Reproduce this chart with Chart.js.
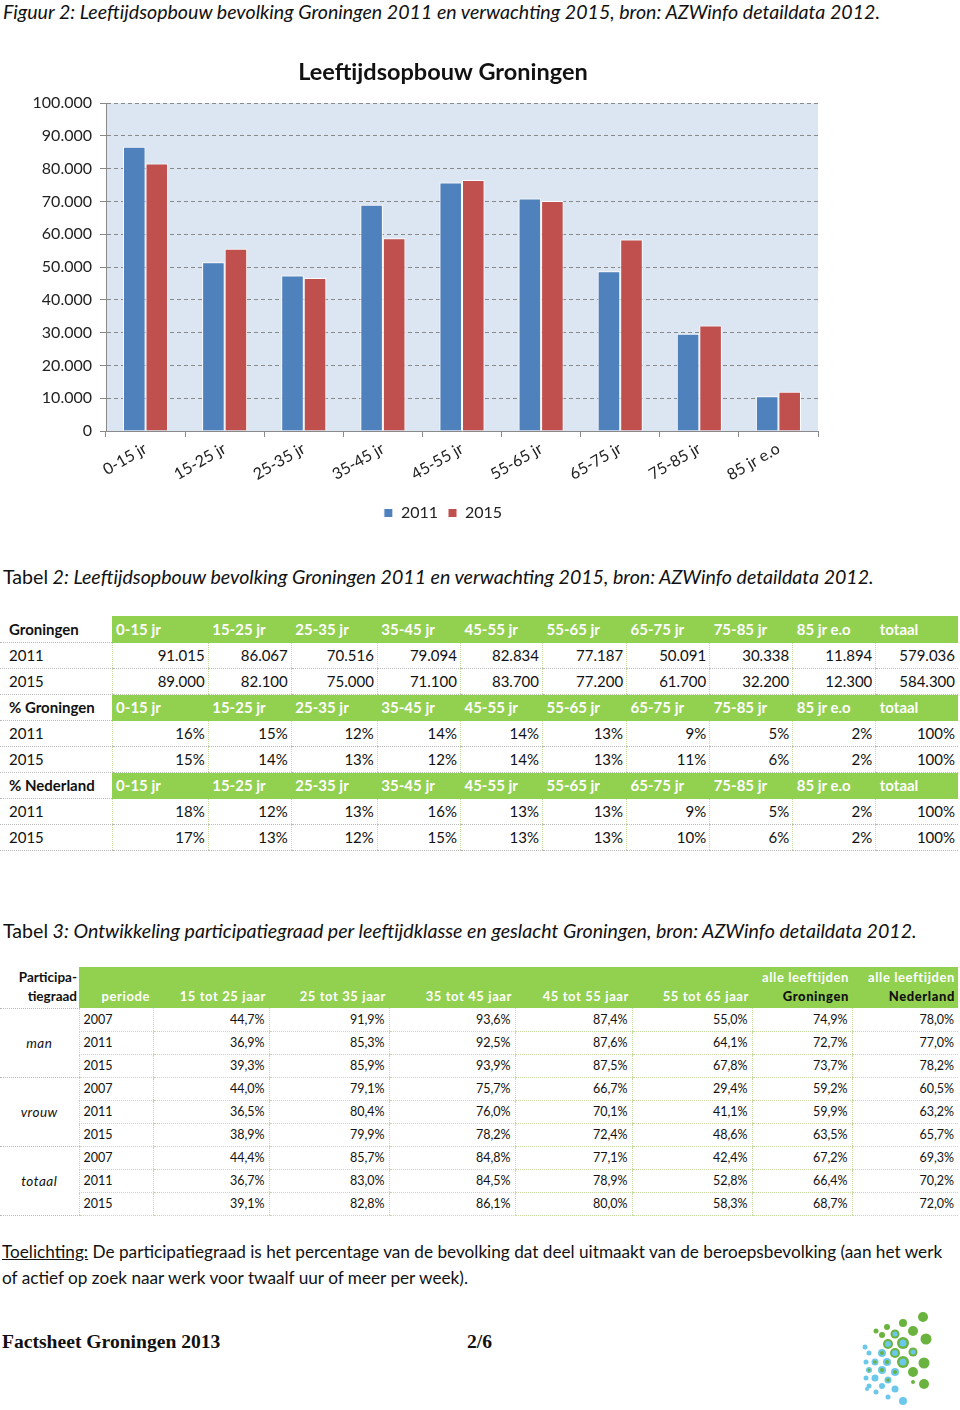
<!DOCTYPE html>
<html lang="nl">
<head>
<meta charset="utf-8">
<title>Leeftijdsopbouw Groningen</title>
<script src="https://cdn.jsdelivr.net/npm/chart.js@4.4.1/dist/chart.umd.min.js"></script>
<style>
  html, body { margin: 0; padding: 0; background: #fff; }
  body { position: relative; width: 960px; height: 1410px; overflow: hidden;
         font-family: Lato, 'Open Sans', sans-serif; color: #111; }
  .caption { position: absolute; left: 3px; height: 24px; line-height: 24px;
             font-size: 19.6px; font-style: italic; white-space: nowrap; }
  .caption .plain { font-style: normal; }
  #chartBox { position: absolute; left: 26px; top: 48px; width: 834px; height: 483px; }

  table { position: absolute; border-collapse: collapse; table-layout: fixed; }
  td { padding: 0; white-space: nowrap; overflow: hidden; }

  /* Tabel 2 */
  #t2 { left: 0; top: 616px; width: 958px; font-size: 15px; }
  #t2 tr { height: 26px; }
  #t2 td { border-bottom: 1px dotted #b9b9b9; }
  #t2 td.lab { padding-left: 9px; }
  #t2 td.lab.bold { font-weight: bold; padding-left: 9px; }
  #t2 td.head { background: #92d050; color: #fff; font-weight: bold; padding-left: 4px;
                border-bottom: 1px solid #92d050; }
  #t2 td.num { text-align: right; padding-right: 3px; border-left: 1px dotted #c6d9a0; }

  /* Tabel 3 */
  #t3 { left: 0; top: 967px; width: 958px; font-size: 12.5px; }
  #t3 tr { height: 23px; }
  #t3 tr.hdr { height: 41px; }
  #t3 td.corner { font-weight: bold; font-size: 13.5px; text-align: right; vertical-align: bottom;
                  line-height: 19px; padding: 0 2px 2px 0; border-bottom: 1px dotted #b9b9b9; }
  #t3 td.head { background: #92d050; color: #fff; font-weight: bold; font-size: 13px;
                letter-spacing: 0.6px; text-align: right; vertical-align: bottom;
                line-height: 19px; padding: 0 3px 2px 0; }
  #t3 td.head b { color: #111; }
  #t3 td.grp { font-style: italic; font-size: 13.5px; letter-spacing: 0.5px; text-align: center;
               border-bottom: 1px dotted #b9b9b9; }
  #t3 td.per { padding-left: 4px; border-bottom: 1px dotted #c6d9a0; border-left: 1px dotted #c6d9a0; }
  #t3 td.num { text-align: right; padding-right: 4px; border-bottom: 1px dotted #c6d9a0;
               border-left: 1px dotted #c6d9a0; }

  #note { position: absolute; left: 2px; top: 1239px; width: 955px; font-size: 17.2px;
          line-height: 26px; white-space: nowrap; }
  #note u { text-decoration: underline; }
  .footer { position: absolute; top: 1329px; font-family: 'Liberation Serif', 'DejaVu Serif', serif;
            font-weight: bold; font-size: 19.6px; line-height: 26px; white-space: nowrap; }
  #logo { position: absolute; left: 855px; top: 1305px; }
</style>
</head>
<body>

<div class="caption" style="top:0px">Figuur 2: Leeftijdsopbouw bevolking Groningen 2011 en verwachting 2015, bron: AZWinfo detaildata 2012.</div>

<div id="chartBox"><canvas id="leeftijdChart"></canvas></div>

<div class="caption" style="top:565px"><span class="plain">Tabel</span> 2: Leeftijdsopbouw bevolking Groningen 2011 en verwachting 2015, bron: AZWinfo detaildata 2012.</div>
<table id="t2"></table>

<div class="caption" style="top:919px"><span class="plain">Tabel</span> 3: Ontwikkeling participatiegraad per leeftijdklasse en geslacht Groningen, bron: AZWinfo detaildata 2012.</div>
<table id="t3"></table>

<div id="note"><u>Toelichting:</u> De participatiegraad is het percentage van de bevolking dat deel uitmaakt van de beroepsbevolking (aan het werk<br>of actief op zoek naar werk voor twaalf uur of meer per week).</div>

<div class="footer" style="left:2px">Factsheet Groningen 2013</div>
<div class="footer" style="left:467px">2/6</div>

<svg id="logo" width="80" height="105" viewBox="855 1305 80 105"></svg>

<script>
// Gegevens grafiek
const categories = ['0-15 jr', '15-25 jr', '25-35 jr', '35-45 jr', '45-55 jr', '55-65 jr', '65-75 jr', '75-85 jr', '85 jr e.o'];
const values2011 = [86700, 51500, 47400, 69000, 75800, 70900, 48700, 29700, 10600];
const values2015 = [81600, 55600, 46700, 58800, 76600, 70200, 58400, 32200, 12000];
const yMax = 100000;
const yStep = 10000;

// Gegevens tabel 2
const t2Years = ['2011', '2015'];
const t2Aantal = [
    ['91.015', '86.067', '70.516', '79.094', '82.834', '77.187', '50.091', '30.338', '11.894', '579.036'],
    ['89.000', '82.100', '75.000', '71.100', '83.700', '77.200', '61.700', '32.200', '12.300', '584.300']
];
const t2PctGroningen = [
    [16, 15, 12, 14, 14, 13, 9, 5, 2, 100],
    [15, 14, 13, 12, 14, 13, 11, 6, 2, 100]
];
const t2PctNederland = [
    [18, 12, 13, 16, 13, 13, 9, 5, 2, 100],
    [17, 13, 12, 15, 13, 13, 10, 6, 2, 100]
];

// Gegevens tabel 3
const t3Columns = ['periode', '15 tot 25 jaar', '25 tot 35 jaar', '35 tot 45 jaar', '45 tot 55 jaar', '55 tot 65 jaar'];
const t3Groups = ['man', 'vrouw', 'totaal'];
const t3Periods = ['2007', '2011', '2015'];
const t3Values = [
    ['44,7', '91,9', '93,6', '87,4', '55,0', '74,9', '78,0'],
    ['36,9', '85,3', '92,5', '87,6', '64,1', '72,7', '77,0'],
    ['39,3', '85,9', '93,9', '87,5', '67,8', '73,7', '78,2'],
    ['44,0', '79,1', '75,7', '66,7', '29,4', '59,2', '60,5'],
    ['36,5', '80,4', '76,0', '70,1', '41,1', '59,9', '63,2'],
    ['38,9', '79,9', '78,2', '72,4', '48,6', '63,5', '65,7'],
    ['44,4', '85,7', '84,8', '77,1', '42,4', '67,2', '69,3'],
    ['36,7', '83,0', '84,5', '78,9', '52,8', '66,4', '70,2'],
    ['39,1', '82,8', '86,1', '80,0', '58,3', '68,7', '72,0']
];

// Duizendtallen met een punt
function formatNumber(v) {
    return String(v).replace(/\B(?=(\d{3})+(?!\d))/g, '.');
}

// Achtergrond van het plotgebied
const plotBackground = {
    id: 'plotBackground',
    beforeDraw(chart) {
        const a = chart.chartArea;
        const ctx = chart.ctx;
        ctx.save();
        ctx.fillStyle = '#dce6f2';
        ctx.fillRect(a.left, a.top, a.width, a.height);
        ctx.restore();
    }
};

const ctx = document.getElementById('leeftijdChart').getContext('2d');
new Chart(ctx, {
    type: 'bar',
    data: {
        labels: categories,
        datasets: [
            { label: '2011', data: values2011, backgroundColor: '#4f81bd', borderColor: '#ffffff', borderWidth: 1, borderSkipped: 'bottom' },
            { label: '2015', data: values2015, backgroundColor: '#c0504d', borderColor: '#ffffff', borderWidth: 1, borderSkipped: 'bottom' }
        ]
    },
    options: {
        responsive: true,
        maintainAspectRatio: false,
        animation: false,
        categoryPercentage: 0.57,
        barPercentage: 1,
        layout: { padding: 0 },
        plugins: {
            title: {
                display: true,
                text: 'Leeftijdsopbouw Groningen',
                color: '#111',
                font: { family: 'Lato', size: 23.5, weight: 'bold' },
                padding: { top: 10, bottom: 17 }
            },
            legend: {
                position: 'bottom',
                labels: {
                    boxWidth: 9,
                    boxHeight: 9,
                    padding: 10,
                    color: '#222',
                    font: { family: 'Lato', size: 16 }
                }
            },
            tooltip: { enabled: false }
        },
        scales: {
            x: {
                grid: { offset: true, drawOnChartArea: false, tickLength: 6, color: '#8a8a8a' },
                border: { color: '#8a8a8a' },
                ticks: { minRotation: 30, maxRotation: 30, padding: 2, color: '#222', font: { family: 'Lato', size: 16 } },
                afterFit(scale) { scale.height = 64; }
            },
            y: {
                min: 0,
                max: yMax,
                grid: { color: '#8a8a8a', tickLength: 6 },
                border: { color: '#8a8a8a', dash: [4, 3] },
                ticks: {
                    stepSize: yStep,
                    padding: 8,
                    color: '#222',
                    font: { family: 'Lato', size: 16 },
                    callback: function(value) { return formatNumber(value); }
                },
                afterFit(scale) { scale.width = 80; }
            },
            // lege rechteras: houdt ruimte rechts vrij zodat titel en legenda centreren zoals in het origineel
            yRight: {
                position: 'right',
                grid: { display: false },
                border: { display: false },
                ticks: { display: false },
                afterFit(scale) { scale.width = 42; }
            }
        }
    },
    plugins: [plotBackground]
});

// Tabel 2 opbouwen
function buildTable2() {
    const table = document.getElementById('t2');
    const widths = [112, 96, 83, 86, 83, 82, 84, 83, 83, 83, 82];
    let html = '<colgroup>' + widths.map(w => `<col style="width:${w}px">`).join('') + '</colgroup>';
    const headerRow = (label) => '<tr><td class="lab bold">' + label + '</td>' +
        categories.concat(['totaal']).map(c => `<td class="head">${c}</td>`).join('') + '</tr>';
    const dataRows = (rows, fmt) => rows.map((r, i) => '<tr><td class="lab">' + t2Years[i] + '</td>' +
        r.map(v => `<td class="num">${fmt(v)}</td>`).join('') + '</tr>').join('');
    html += headerRow('Groningen') + dataRows(t2Aantal, v => v);
    html += headerRow('% Groningen') + dataRows(t2PctGroningen, v => v + '%');
    html += headerRow('% Nederland') + dataRows(t2PctNederland, v => v + '%');
    table.innerHTML = html;
}

// Tabel 3 opbouwen
function buildTable3() {
    const table = document.getElementById('t3');
    const widths = [79, 74, 116, 120, 126, 117, 120, 100, 106];
    let html = '<colgroup>' + widths.map(w => `<col style="width:${w}px">`).join('') + '</colgroup>';
    html += '<tr class="hdr"><td class="corner">Participa-<br>tiegraad</td>' +
        t3Columns.map(c => `<td class="head">${c}</td>`).join('') +
        '<td class="head">alle leeftijden<br><b>Groningen</b></td>' +
        '<td class="head">alle leeftijden<br><b>Nederland</b></td></tr>';
    t3Values.forEach((row, i) => {
        const g = Math.floor(i / 3);
        html += '<tr>';
        if (i % 3 === 0) html += `<td class="grp" rowspan="3">${t3Groups[g]}</td>`;
        html += `<td class="per">${t3Periods[i % 3]}</td>`;
        html += row.map(v => `<td class="num">${v}%</td>`).join('');
        html += '</tr>';
    });
    table.innerHTML = html;
}

// Logo (decoratief)
function drawLogo() {
    const svg = document.getElementById('logo');
    const dots = [
        [923, 1317, 5, '#6ab33e'], [926, 1339, 5.5, '#6ab33e'], [924, 1363, 5.5, '#6ab33e'], [924, 1384, 5, '#6ab33e'],
        [913, 1331, 5, '#6ab33e'], [913, 1372, 5, '#6ab33e'], [903, 1323, 4, '#6ab33e'], [887, 1327, 3, '#6ab33e'],
        [882, 1335, 3, '#6ab33e'], [876, 1331, 2.5, '#6ab33e'],
        [903, 1343, 6, '#6ab33e'], [903, 1362, 6, '#6ab33e'], [895, 1353, 5, '#6ab33e'], [888, 1344, 5, '#6ab33e'],
        [895, 1334, 4.5, '#6ab33e'], [913, 1352, 4.5, '#6ab33e'],
        [903, 1343, 3.5, '#6cc8ea'], [903, 1362, 3.5, '#6cc8ea'], [895, 1353, 3, '#6cc8ea'], [888, 1344, 3, '#6cc8ea'],
        [895, 1334, 2.5, '#6cc8ea'], [913, 1352, 2.5, '#6cc8ea'],
        [882, 1353, 4, '#6cc8ea'], [887, 1362, 4, '#6cc8ea'], [882, 1370, 4, '#6cc8ea'], [895, 1372, 4, '#6cc8ea'],
        [888, 1380, 3.5, '#6cc8ea'], [895, 1389, 3.5, '#6cc8ea'], [903, 1401, 4, '#6cc8ea'], [875, 1362, 3.5, '#6cc8ea'],
        [875, 1378, 3.5, '#6cc8ea'], [882, 1386, 3, '#6cc8ea'], [888, 1397, 2.5, '#6cc8ea'], [869, 1353, 2.5, '#6cc8ea'],
        [869, 1370, 3, '#6cc8ea'], [869, 1386, 2.5, '#6cc8ea'], [865, 1347, 2.5, '#6cc8ea'], [866, 1362, 2.5, '#6cc8ea'],
        [866, 1378, 2.5, '#6cc8ea'], [867, 1389, 2, '#6cc8ea'], [876, 1392, 2.5, '#6cc8ea'],
        [882, 1353, 2, '#6ab33e'], [887, 1362, 2, '#6ab33e'], [875, 1362, 1.8, '#6ab33e'], [882, 1370, 2, '#6ab33e'],
        [895, 1372, 2, '#6ab33e'], [888, 1380, 1.8, '#6ab33e'], [869, 1370, 1.5, '#6ab33e'], [913, 1382, 2, '#6ab33e']
    ];
    svg.innerHTML = dots.map(d => `<circle cx="${d[0]}" cy="${d[1]}" r="${d[2]}" fill="${d[3]}"/>`).join('');
}

buildTable2();
buildTable3();
drawLogo();
</script>
</body>
</html>
